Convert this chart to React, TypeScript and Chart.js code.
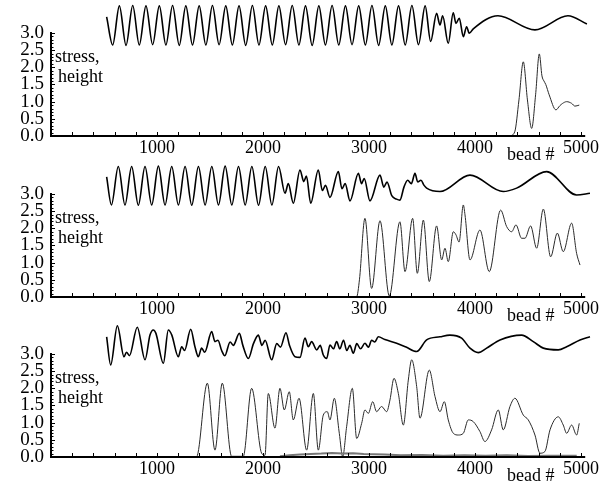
import React, { useEffect, useRef } from "react";
import { Chart, registerables } from "chart.js";
Chart.register(...registerables);

const xTickLabels = [1000, 2000, 3000, 4000, 5000];
const yTickLabels = [0, 0.5, 1, 1.5, 2, 2.5, 3];

// Panel 1
const p1WaveX = [525,
  582, 645, 708, 771, 833, 896, 959, 1022, 1084, 1147, 1210, 1272, 1335, 1398, 1461, 1523,
  1586, 1649, 1711, 1774, 1837, 1900, 1962, 2025, 2088, 2150, 2213, 2276, 2339, 2401, 2464, 2527,
  2589, 2652, 2715, 2778, 2840, 2903, 2966, 3028, 3091, 3154, 3216, 3279, 3342, 3405, 3467, 3530,
  3582, 3638, 3670, 3695, 3748, 3795, 3821, 3852, 3890, 3921, 3946, 3984, 4217, 4566, 4877, 5056];
const p1WaveY = [3.47,
  2.65, 3.79, 2.64, 3.80, 2.65, 3.79, 2.66, 3.79, 2.65, 3.80, 2.64, 3.79, 2.65, 3.79, 2.65, 3.80,
  2.66, 3.79, 2.65, 3.79, 2.64, 3.80, 2.65, 3.79, 2.65, 3.79, 2.66, 3.80, 2.65, 3.79, 2.64, 3.79,
  2.65, 3.80, 2.65, 3.79, 2.66, 3.79, 2.65, 3.80, 2.64, 3.79, 2.65, 3.79, 2.65, 3.80, 2.66, 3.79,
  2.75, 3.57, 3.23, 3.50, 2.70, 3.59, 3.28, 3.43, 2.89, 3.18, 2.99, 3.12, 3.50, 3.09, 3.50, 3.26];
const p1StressX = [4330, 4375, 4415, 4456, 4495, 4535, 4572, 4607, 4632, 4651, 4668, 4700, 4764, 4800, 4827, 4865, 4912, 4943, 4984];
const p1StressY = [0.0, 0.12, 1.05, 2.16, 1.05, 0.22, 1.2, 2.39, 1.75, 1.6, 1.5, 1.2, 0.76, 0.88, 0.95, 1.0, 0.95, 0.87, 0.90];

// Panel 2
const p2WaveX = [525, 570,
  635, 698, 761, 824, 887, 950, 1013, 1076, 1139, 1202, 1265, 1328, 1391, 1454, 1517, 1580,
  1643, 1706, 1769, 1832, 1895, 1958, 2021, 2084, 2147,
  2208, 2239, 2286, 2349, 2385, 2410, 2450, 2522, 2560, 2590, 2632, 2711, 2745, 2775, 2821, 2900,
  2930, 2955, 3009, 3104, 3140, 3170, 3215, 3260, 3292, 3330, 3365, 3400, 3434, 3460, 3490, 3520,
  3544, 3670, 3953, 4267, 4393, 4676, 4959, 5085];
const p2WaveY = [3.50, 2.68,
  3.80, 2.68, 3.80, 2.67, 3.80, 2.68, 3.81, 2.68, 3.80, 2.68, 3.80, 2.67, 3.80, 2.68, 3.80, 2.68,
  3.81, 2.68, 3.80, 2.68, 3.80, 2.67, 3.80, 2.68, 3.80,
  3.02, 3.30, 2.73, 3.70, 3.36, 3.52, 2.73, 3.70, 3.10, 3.25, 2.90, 3.65, 3.15, 3.30, 2.80, 3.60,
  3.30, 3.45, 2.80, 3.55, 3.20, 3.35, 2.95, 2.85, 2.82, 3.20, 3.40, 3.30, 3.60, 3.35, 3.40, 3.25,
  3.17, 3.07, 3.55, 3.07, 3.17, 3.65, 2.97, 3.02];
const p2StressX = [2850, 2884, 2910, 2962, 3025, 3104, 3192, 3292, 3340, 3412, 3456, 3513, 3569, 3638, 3686, 3717, 3748,
  3796, 3821, 3850, 3890, 3906, 3953, 4047, 4135, 4242, 4299, 4346, 4387, 4440, 4472, 4525, 4582, 4645, 4714, 4777,
  4833, 4912, 4959, 4991];
const p2StressY = [0, 0.01, 0.5, 2.29, 0.25, 2.22, 0.03, 2.19, 0.74, 2.29, 0.69, 2.24, 0.45, 2.07, 1.08, 1.42, 1.03,
  1.90, 1.81, 1.6, 2.68, 2.39, 1.08, 1.95, 0.74, 2.53, 2.05, 1.90, 2.10, 1.71, 1.71, 2.07, 1.42, 2.56, 1.17, 1.86,
  1.32, 2.15, 1.27, 0.93];

// Panel 3
const p3WaveX = [525, 563, 626, 689, 712, 740, 814, 887, 934, 965, 990, 1060, 1107, 1140, 1201, 1233, 1260, 1318,
  1358, 1390, 1421, 1450, 1516, 1547, 1575, 1610, 1640, 1690, 1720, 1777, 1810, 1862, 1910, 1956, 1990, 2020, 2082,
  2130, 2165, 2217, 2250, 2302, 2349, 2396, 2428, 2459, 2507, 2540, 2569, 2601, 2632, 2665, 2695, 2725, 2760, 2790,
  2820, 2852, 2885, 2920, 2962, 2995, 3025, 3055, 3088, 3150, 3261, 3350, 3450, 3544, 3670, 3764, 3874, 3953, 4031,
  4110, 4236, 4440, 4550, 4645, 4786, 4865, 4991, 5085];
const p3WaveY = [3.50, 2.68, 3.82, 2.92, 3.05, 2.95, 3.78, 2.83, 3.55, 3.70, 3.60, 2.73, 3.70, 3.55, 2.92, 3.21, 3.10, 3.72,
  3.21, 2.92, 3.17, 3.05, 3.65, 3.36, 3.40, 3.10, 2.95, 3.35, 3.25, 3.60, 3.25, 2.87, 3.30, 3.55, 3.25, 3.40, 2.83,
  3.30, 3.20, 3.62, 3.25, 2.92, 2.90, 3.46, 3.21, 3.36, 3.12, 3.25, 2.97, 2.87, 3.26, 3.15, 3.36, 3.15, 3.40, 3.10,
  3.25, 3.02, 3.30, 3.15, 3.31, 3.20, 3.40, 3.35, 3.50, 3.42, 3.31, 3.20, 3.07, 3.41, 3.50, 3.55, 3.46, 3.17, 3.04,
  3.17, 3.41, 3.55, 3.36, 3.17, 3.12, 3.21, 3.41, 3.50];
const p3StressX = [1340, 1374, 1475, 1547, 1616, 1704, 1814, 1893, 1987, 2019, 2050, 2113, 2160, 2201, 2248, 2286, 2340,
  2412, 2475, 2522, 2569, 2607, 2632, 2673, 2720, 2752, 2789, 2843, 2884, 2931, 2962, 2994, 3035, 3072, 3119, 3167,
  3198, 3236, 3277, 3324, 3371, 3403, 3450, 3481, 3569, 3623, 3670, 3711, 3748, 3796, 3843, 3890, 3937, 3984, 4047,
  4094, 4157, 4220, 4267, 4330, 4377, 4456, 4503, 4566, 4613, 4660, 4708, 4786, 4833, 4865, 4912, 4959, 4984];
const p3StressY = [0, 0.01, 2.15, 0.20, 2.15, 0.02, 0.02, 2.00, 0.11, 0.05, 1.85, 0.84, 2.00, 1.37, 1.90, 1.08, 1.71,
  0.20, 1.85, 0.20, 1.22, 1.32, 1.08, 1.71, 0.69, 0.01, 0.88, 2.00, 0.54, 0.98, 1.37, 1.27, 1.61, 1.32, 1.47, 1.32,
  1.66, 2.29, 1.85, 0.93, 2.24, 2.83, 2.05, 1.13, 2.53, 1.76, 1.32, 1.61, 1.08, 0.69, 0.64, 0.69, 1.08, 1.03, 0.74,
  0.45, 0.79, 1.37, 0.79, 1.47, 1.71, 1.22, 1.08, 0.64, 0.11, 0.16, 0.79, 1.17, 0.93, 0.69, 0.93, 0.64, 0.98];
const p3NoiseX = [2160, 2250, 2350, 2450, 2550, 2650, 2750, 2850, 2950, 3050, 3150, 3300, 3500, 3700, 3900, 4100, 4300, 4500, 4700, 4960];
const p3NoiseY = [0.02, 0.05, 0.07, 0.09, 0.1, 0.12, 0.1, 0.11, 0.09, 0.08, 0.07, 0.05, 0.06, 0.04, 0.05, 0.04, 0.05, 0.03, 0.04, 0.04];

const FONT = "'Liberation Serif', 'Times New Roman', serif";
const AXIS_BOTTOM = 136;

function zip(xs: number[], ys: number[]) {
  return xs.map((x, i) => ({ x, y: ys[i] }));
}

const axisPlugin = {
  id: "customAxes",
  afterDraw(chart: any) {
    const { ctx } = chart;
    const xs = chart.scales.x;
    const ys = chart.scales.y;
    const x0 = xs.getPixelForValue(0);
    const x1 = xs.getPixelForValue(5040);
    const y0 = ys.getPixelForValue(0);
    const y3 = ys.getPixelForValue(3);
    ctx.save();
    ctx.strokeStyle = "#000";
    ctx.lineWidth = 2;
    ctx.beginPath();
    ctx.moveTo(x0 - 1, y0);
    ctx.lineTo(x1, y0);
    ctx.moveTo(x0, y0);
    ctx.lineTo(x0, y3 - 1);
    ctx.stroke();
    ctx.lineWidth = 1;
    ctx.beginPath();
    for (let v = 200; v <= 5000; v += 200) {
      const px = Math.round(xs.getPixelForValue(v)) + 0.5;
      ctx.moveTo(px, y0);
      ctx.lineTo(px, y0 - 4);
    }
    for (let i = 1; i <= 30; i++) {
      const py = Math.round(ys.getPixelForValue(i / 10)) + 0.5;
      ctx.moveTo(x0, py);
      ctx.lineTo(x0 + (i % 5 === 0 ? 4 : 2.5), py);
    }
    ctx.stroke();
    ctx.fillStyle = "#000";
    ctx.font = `18px ${FONT}`;
    ctx.textAlign = "left";
    ctx.textBaseline = "alphabetic";
    ctx.fillText("stress,", 55, 62);
    ctx.fillText("height", 58, 82);
    ctx.fillText("bead #", 507, 160);
    ctx.restore();
  },
};

type PanelProps = { h: number; datasets: any[] };

function Panel({ h, datasets }: PanelProps) {
  const ref = useRef<HTMLCanvasElement | null>(null);
  useEffect(() => {
    if (!ref.current) return;
    const chart = new Chart(ref.current, {
      type: "line",
      data: { datasets },
      options: {
        animation: false,
        responsive: false,
        devicePixelRatio: 1,
        layout: { padding: { left: 0, right: 22.5, top: 0, bottom: 0 }, autoPadding: false } as any,
        plugins: { legend: { display: false }, tooltip: { enabled: false } },
        elements: { point: { radius: 0 } },
        scales: {
          x: {
            type: "linear",
            min: 0,
            max: 5090,
            grid: { display: false, drawTicks: false },
            border: { display: false },
            afterBuildTicks: (s: any) => {
              s.ticks = xTickLabels.map((v) => ({ value: v }));
            },
            afterFit: (s: any) => {
              s.height = h - AXIS_BOTTOM;
              s.paddingLeft = 0;
              s.paddingRight = 0;
              s.paddingTop = 0;
              s.paddingBottom = 0;
            },
            ticks: {
              autoSkip: false,
              maxRotation: 0,
              padding: 1,
              color: "#000",
              font: { family: FONT, size: 18 },
              callback: (v: any) => String(v),
            },
          },
          y: {
            type: "linear",
            min: 0,
            max: 3.96,
            grid: { display: false, drawTicks: false },
            border: { display: false },
            afterBuildTicks: (s: any) => {
              s.ticks = yTickLabels.map((v) => ({ value: v }));
            },
            afterFit: (s: any) => {
              s.width = 51;
              s.paddingTop = 0;
              s.paddingBottom = 0;
              s.paddingLeft = 0;
              s.paddingRight = 0;
            },
            ticks: {
              autoSkip: false,
              padding: 7,
              color: "#000",
              font: { family: FONT, size: 19 },
              callback: (v: any) => Number(v).toFixed(1),
            },
          },
        },
      } as any,
      plugins: [axisPlugin],
    });
    return () => chart.destroy();
  }, []);
  return <canvas ref={ref} width={613} height={h} style={{ display: "block" }} />;
}

const waveStyle = { borderColor: "#000", borderWidth: 1.6, cubicInterpolationMode: "monotone", fill: false, clip: false };
const stressStyle = { borderColor: "#2a2a2a", borderWidth: 1, cubicInterpolationMode: "monotone", fill: false, clip: false };
const noiseStyle = { borderColor: "#777", borderWidth: 2, tension: 0, fill: false };

export default function App() {
  const panels = [
    {
      h: 161,
      datasets: [
        { ...waveStyle, data: zip(p1WaveX, p1WaveY) },
        { ...stressStyle, data: zip(p1StressX, p1StressY) },
      ],
    },
    {
      h: 160,
      datasets: [
        { ...waveStyle, data: zip(p2WaveX, p2WaveY) },
        { ...stressStyle, data: zip(p2StressX, p2StressY) },
      ],
    },
    {
      h: 166,
      datasets: [
        { ...waveStyle, data: zip(p3WaveX, p3WaveY) },
        { ...noiseStyle, data: zip(p3NoiseX, p3NoiseY) },
        { ...stressStyle, data: zip(p3StressX, p3StressY) },
      ],
    },
  ];
  return (
    <div style={{ position: "absolute", left: 0, top: 0, width: 613, height: 487, background: "#fff" }}>
      {panels.map((p, i) => (
        <Panel key={i} h={p.h} datasets={p.datasets} />
      ))}
    </div>
  );
}
